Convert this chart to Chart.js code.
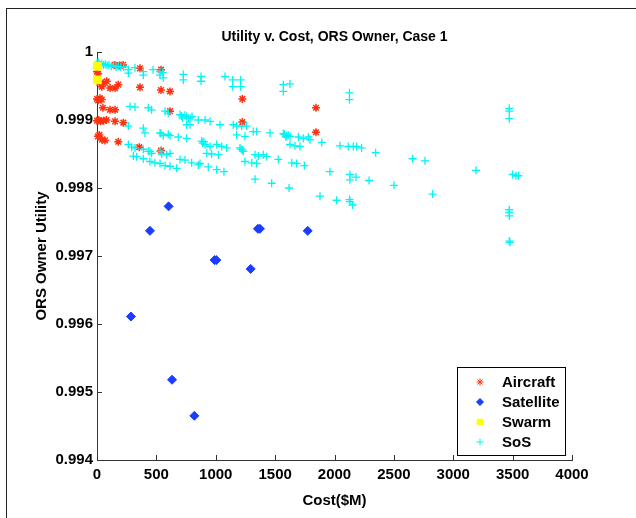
<!DOCTYPE html>
<html>
<head>
<meta charset="utf-8">
<script src="https://cdn.jsdelivr.net/npm/chart.js@4.4.0/dist/chart.umd.min.js"></script>
<style>
  html, body { margin: 0; padding: 0; background: #fff; }
  #wrap { position: relative; width: 636px; height: 518px; overflow: hidden; }
  .frame { position: absolute; left: 6px; top: 8px; width: 700px; height: 600px;
           border-left: 1px solid #222; border-top: 1px solid #222; }
  #chart { position: absolute; left: 0; top: 0; }
</style>
</head>
<body>
<div id="wrap">
  <div class="frame"></div>
  <canvas id="chart" width="636" height="518"></canvas>
</div>
<script>
// categories
var seriesNames = ['Aircraft', 'Satellite', 'Swarm', 'SoS'];
var chartTitle = 'Utility v. Cost, ORS Owner, Case 1';

// tick labels
var xTicks = [0, 500, 1000, 1500, 2000, 2500, 3000, 3500, 4000];
var xTickLabels = ['0', '500', '1000', '1500', '2000', '2500', '3000', '3500', '4000'];
var yTicks = [0.994, 0.995, 0.996, 0.997, 0.998, 0.999, 1];
var yTickLabels = ['0.994', '0.995', '0.996', '0.997', '0.998', '0.999', '1'];

// Aircraft (cost $M, utility)
var aircraftCost = [0, 10, 150, 190, 220, 362, 539,
    20, 53, 82, 179, 40, 110, 152, 362, 539, 615, 1224,
    0, 10, 25, 40, 50, 110, 152, 615, 1844,
    0, 15, 30, 55, 80, 152, 222, 1224,
    8, 20, 42, 67, 179, 356, 539, 1844];
var aircraftUtility = [0.99971, 0.99968, 0.99981, 0.9998, 0.99981, 0.99976, 0.99974,
    0.99955, 0.99954, 0.99957, 0.99952, 0.99949, 0.99947, 0.99947, 0.99948, 0.99944, 0.99942, 0.99931,
    0.99931, 0.99929, 0.99932, 0.9993, 0.99918, 0.99915, 0.99915, 0.99913, 0.99918,
    0.99899, 0.999, 0.99898, 0.99899, 0.999, 0.99898, 0.99896, 0.99897,
    0.99876, 0.99878, 0.99871, 0.9987, 0.99868, 0.9986, 0.99855, 0.99882];

// Satellite
var satelliteCost = [286, 446, 603, 632, 820, 990, 1005, 1294, 1355, 1372, 1774];
var satelliteUtility = [0.99611, 0.99737, 0.99773, 0.99518, 0.99465, 0.99694, 0.99694, 0.99681, 0.9974, 0.9974, 0.99737];

// Swarm
var swarmCost = [3, 3];
var swarmUtility = [0.99979, 0.99959];

// SoS
var sosCost = [0, 10, 20, 30, 40, 55, 70, 85, 100, 120, 140, 160, 180, 200, 225,
    264, 264, 320, 390, 390, 472, 530, 530, 553, 558, 727, 727, 876, 876, 1078, 1143, 1143, 1210, 1210,
    1569, 1569, 1625, 2126, 2126, 3472, 3472, 3472,
    278, 320, 432, 460, 573, 600, 713, 755, 783, 755, 783, 853, 910, 952, 1036, 1148, 1176, 1218, 1260, 264, 390,
    700, 720, 740, 770, 800,
    404, 531, 558, 615, 684, 755, 881, 910, 952, 1008, 1050, 1092, 1176, 1246, 1204, 1232, 1246,
    1316, 1344, 1457, 1569, 1597, 1625, 1696, 1738, 1780, 1794, 1893,
    1625, 1667, 1709, 2046, 2116, 2158, 2186, 2228, 2347,
    1580, 1610, 1590, 890, 900, 540, 600, 1215, 1225,
    264, 292, 320, 390, 432, 460, 446, 531, 545, 587, 615,
    306, 334, 390, 446, 488, 531, 573, 615, 671, 699, 741, 797, 853, 867, 937, 1008, 1069, 924, 966, 1022,
    1331, 1358, 1400, 1429, 1303, 1344, 1527, 1640, 1681, 1746,
    1962, 2130, 2130, 2181, 2291, 2501, 1331, 1471, 1617, 1878, 2018, 2126, 2130, 2152,
    2658, 2762, 3192, 3500, 3528, 3548, 2826, 3472, 3472, 3472, 3472, 3478];
var sosUtility = [0.99983, 0.99985, 0.99982, 0.99981, 0.99983, 0.99981, 0.99982, 0.9998, 0.99981, 0.99979, 0.9998, 0.99978, 0.99979, 0.99978, 0.99978,
    0.99974, 0.99969, 0.99977, 0.99971, 0.99966, 0.99974, 0.99971, 0.99966, 0.9997, 0.99962, 0.99967, 0.99959, 0.99964, 0.99957, 0.99964, 0.99959, 0.99949, 0.99959, 0.99949,
    0.99952, 0.99942, 0.99953, 0.9994, 0.9993, 0.99917, 0.99913, 0.99902,
    0.9992, 0.99919, 0.99918, 0.99915, 0.99913, 0.9991, 0.99906, 0.99905, 0.99903, 0.99893, 0.99893, 0.999, 0.999, 0.99898, 0.99893, 0.99893, 0.99891, 0.99891, 0.99891, 0.99891, 0.99888,
    0.99908, 0.99903, 0.99907, 0.99902, 0.99905,
    0.99881, 0.99881, 0.99877, 0.99877, 0.99875, 0.99873, 0.99869, 0.99864, 0.99861, 0.99864, 0.99861, 0.99859, 0.99878, 0.99876, 0.99859, 0.99854, 0.99839,
    0.99883, 0.99883, 0.99881, 0.9988, 0.99877, 0.99876, 0.99875, 0.99873, 0.99875, 0.99871, 0.99867,
    0.99864, 0.99862, 0.99861, 0.99862, 0.99861, 0.99861, 0.99861, 0.99859, 0.99852,
    0.99879, 0.99878, 0.99875, 0.99866, 0.99868, 0.9988, 0.99879, 0.99857, 0.99856,
    0.99864, 0.9986, 0.99859, 0.99857, 0.99854, 0.99851, 0.99854, 0.99854, 0.9985, 0.99849, 0.99851,
    0.99847, 0.99846, 0.99843, 0.99839, 0.99837, 0.99836, 0.99833, 0.99832, 0.99829, 0.99842, 0.99841, 0.99837, 0.99834, 0.99836, 0.99831, 0.99827, 0.99824, 0.99851, 0.9985, 0.99849,
    0.99849, 0.99847, 0.99849, 0.99846, 0.99837, 0.99836, 0.99842, 0.99837, 0.99836, 0.99833,
    0.99824, 0.9982, 0.99812, 0.99816, 0.99811, 0.99804, 0.99813, 0.99807, 0.998, 0.99788, 0.99782, 0.99783, 0.9978, 0.99775,
    0.99843, 0.9984, 0.99826, 0.9982, 0.99818, 0.99818, 0.99791, 0.99768, 0.99764, 0.99759, 0.99722, 0.9972];

var font = "'Liberation Sans', Arial, Helvetica, sans-serif";

function toPoints(xs, ys) {
    return xs.map(function(v, i) { return {x: v, y: ys[i]}; });
}

// title centred over the axes, not the whole canvas
var axesTitle = {
    id: 'axesTitle',
    afterDraw: function(chart) {
        var ctx = chart.ctx, a = chart.chartArea;
        ctx.save();
        ctx.font = 'bold 14px ' + font;
        ctx.fillStyle = '#000';
        ctx.textAlign = 'center';
        ctx.textBaseline = 'middle';
        ctx.fillText(chartTitle, (a.left + a.right) / 2, 37);
        ctx.restore();
    }
};

// ticks pointing into the plot, matlab style
var innerTicks = {
    id: 'innerTicks',
    beforeDatasetsDraw: function(chart) {
        var ctx = chart.ctx, a = chart.chartArea;
        var sx = chart.scales.x, sy = chart.scales.y;
        ctx.save();
        ctx.strokeStyle = '#333';
        ctx.lineWidth = 1;
        ctx.beginPath();
        xTicks.forEach(function(v) {
            var px = Math.round(sx.getPixelForValue(v)) + 0.5;
            ctx.moveTo(px, a.bottom);
            ctx.lineTo(px, a.bottom - 5);
        });
        yTicks.forEach(function(v) {
            var py = Math.round(sy.getPixelForValue(v)) + 0.5;
            ctx.moveTo(a.left, py);
            ctx.lineTo(a.left + 5, py);
        });
        ctx.stroke();
        ctx.restore();
    }
};

// legend box sitting inside the axes, bottom right
var boxLegend = {
    id: 'boxLegend',
    afterDraw: function(chart) {
        var ctx = chart.ctx;
        var left = 457.5, top = 367.5, w = 108, h = 88;
        ctx.save();
        ctx.fillStyle = '#fff';
        ctx.fillRect(left, top, w, h);
        ctx.strokeStyle = '#000';
        ctx.lineWidth = 1;
        ctx.strokeRect(left, top, w, h);
        ctx.font = 'bold 15px ' + font;
        ctx.textBaseline = 'middle';
        ctx.textAlign = 'left';
        chart.data.datasets.forEach(function(ds, i) {
            var y = 382 + i * 20;
            var opts = {
                pointStyle: ds.pointStyle,
                radius: ds.legendRadius,
                borderWidth: 1
            };
            ctx.fillStyle = ds.backgroundColor;
            ctx.strokeStyle = ds.borderColor;
            ctx.lineWidth = 1;
            Chart.helpers.drawPoint(ctx, opts, 480, y);
            ctx.fillStyle = '#000';
            ctx.fillText(ds.label, 502, y + 1);
        });
        ctx.restore();
    }
};

var ctx = document.getElementById('chart');
var myChart = new Chart(ctx, {
    type: 'scatter',
    data: {
        datasets: [{
            label: seriesNames[0],
            data: toPoints(aircraftCost, aircraftUtility),
            pointStyle: 'star',
            radius: 4,
            legendRadius: 3.5,
            borderWidth: 1.5,
            borderColor: '#ff3311',
            backgroundColor: '#ff3311',
            order: 3,
            clip: false
        }, {
            label: seriesNames[1],
            data: toPoints(satelliteCost, satelliteUtility),
            pointStyle: 'rectRot',
            radius: 4.5,
            legendRadius: 3.5,
            borderWidth: 1,
            borderColor: '#1a3dff',
            backgroundColor: '#1a3dff',
            order: 2,
            clip: false
        }, {
            label: seriesNames[2],
            data: toPoints(swarmCost, swarmUtility),
            pointStyle: 'rect',
            radius: 5.5,
            legendRadius: 4,
            borderWidth: 1,
            borderColor: '#ffff00',
            backgroundColor: '#ffff00',
            order: 0,
            clip: false
        }, {
            label: seriesNames[3],
            data: toPoints(sosCost, sosUtility),
            pointStyle: 'cross',
            radius: 4,
            legendRadius: 3.5,
            borderWidth: 1.3,
            borderColor: '#00f6f6',
            backgroundColor: '#00f6f6',
            order: 1,
            clip: false
        }]
    },
    options: {
        responsive: false,
        animation: false,
        devicePixelRatio: 1,
        layout: { padding: { top: 52, right: 64, bottom: 0, left: 0 } },
        plugins: {
            legend: { display: false },
            tooltip: { enabled: false },
            title: { display: false }
        },
        scales: {
            x: {
                type: 'linear',
                min: 0,
                max: 4000,
                afterBuildTicks: function(s) { s.ticks = xTicks.map(function(v) { return {value: v}; }); },
                afterFit: function(s) { s.height = 58; },
                grid: { display: false, drawTicks: false },
                border: { display: true, color: '#333', width: 1 },
                ticks: {
                    color: '#000',
                    padding: 6,
                    maxRotation: 0,
                    autoSkip: false,
                    font: { family: font, size: 15, weight: 'bold' },
                    callback: function(v, i) { return xTickLabels[i]; }
                },
                title: {
                    display: true,
                    text: 'Cost($M)',
                    color: '#000',
                    font: { family: font, size: 15, weight: 'bold' },
                    padding: { top: 0, bottom: 8 }
                }
            },
            y: {
                type: 'linear',
                min: 0.994,
                max: 1,
                afterBuildTicks: function(s) { s.ticks = yTicks.map(function(v) { return {value: v}; }); },
                afterFit: function(s) { s.width = 97; },
                grid: { display: false, drawTicks: false },
                border: { display: true, color: '#333', width: 1 },
                ticks: {
                    color: '#000',
                    padding: 4,
                    autoSkip: false,
                    font: { family: font, size: 15, weight: 'bold' },
                    callback: function(v, i) { return yTickLabels[i]; }
                },
                title: {
                    display: true,
                    text: 'ORS Owner Utility',
                    color: '#000',
                    font: { family: font, size: 15, weight: 'bold' },
                    padding: { top: 33, bottom: 0 }
                }
            }
        }
    },
    plugins: [innerTicks, boxLegend, axesTitle]
});
</script>
</body>
</html>
